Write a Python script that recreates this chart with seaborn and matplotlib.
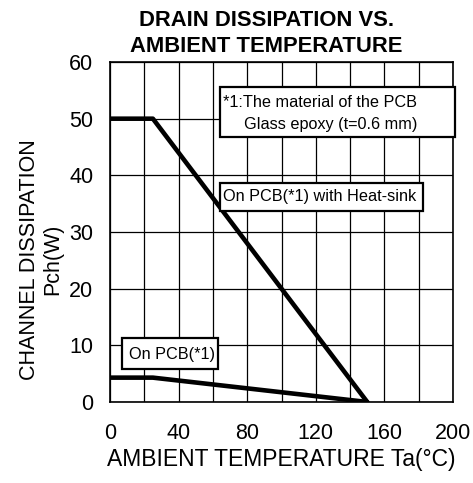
import pandas as pd
import seaborn as sns
from matplotlib import pyplot as plt
from matplotlib.patches import Rectangle

temp_heatsink = [0, 25, 150]
pch_heatsink = [50, 50, 0]
temp_pcb = [0, 25, 150]
pch_pcb = [4.3, 4.3, 0]
x_ticks = [0, 40, 80, 120, 160, 200]
y_ticks = [0, 10, 20, 30, 40, 50, 60]

df = pd.concat([
    pd.DataFrame({'Ta': temp_heatsink, 'Pch': pch_heatsink, 'case': 'heatsink'}),
    pd.DataFrame({'Ta': temp_pcb, 'Pch': pch_pcb, 'case': 'pcb'}),
])

sns.set_style('white', {'text.color': 'black', 'axes.labelcolor': 'black',
                        'xtick.color': 'black', 'ytick.color': 'black'})
plt.rcParams['font.family'] = ['Liberation Sans', 'DejaVu Sans']

fig = plt.figure(figsize=(4.73, 4.83), dpi=100)
ax = fig.add_axes([0.2326, 0.1677, 0.7251, 0.7039])

sns.lineplot(data=df, x='Ta', y='Pch', units='case', estimator=None,
             color='black', linewidth=3.3, ax=ax, sort=False, zorder=3)

ax.set_xlim(0, 200)
ax.set_ylim(0, 60)
ax.set_xticks(x_ticks)
ax.set_xticks(range(20, 200, 40), minor=True)
ax.set_yticks(y_ticks)
ax.grid(True, which='both', axis='x', color='black', linewidth=0.9)
ax.grid(True, which='major', axis='y', color='black', linewidth=0.9)
ax.tick_params(axis='both', which='both', length=0, labelsize=15.5)
ax.tick_params(axis='x', pad=15)
ax.tick_params(axis='y', pad=12)
for s in ax.spines.values():
    s.set_color('black')
    s.set_linewidth(1.2)

ax.set_xlabel('AMBIENT TEMPERATURE Ta(°C)', fontsize=16.5, labelpad=3)
ax.set_ylabel('CHANNEL DISSIPATION\nPch(W)', fontsize=15.5, linespacing=1.15)
ax.yaxis.set_label_coords(-0.135, 0.42)
ax.set_title('DRAIN DISSIPATION VS.\nAMBIENT TEMPERATURE', fontsize=15.8,
             fontweight='bold', pad=7, linespacing=1.3, x=0.455)

# annotation boxes (axes fraction)
for x0, y0, x1, y1 in [(0.321, 0.779, 1.006, 0.926),
                       (0.321, 0.562, 0.9125, 0.644),
                       (0.035, 0.097, 0.315, 0.188)]:
    ax.add_patch(Rectangle((x0, y0), x1 - x0, y1 - y0, transform=ax.transAxes,
                           facecolor='white', edgecolor='black', linewidth=1.6,
                           zorder=5, clip_on=False))

fs = 11.7
ax.text(0.329, 0.882, '*1:The material of the PCB', fontsize=fs,
        transform=ax.transAxes, ha='left', va='center', zorder=6)
ax.text(0.895, 0.815, 'Glass epoxy (t=0.6 mm)', fontsize=fs,
        transform=ax.transAxes, ha='right', va='center', zorder=6)
ax.text(0.329, 0.603, 'On PCB(*1) with Heat-sink', fontsize=fs,
        transform=ax.transAxes, ha='left', va='center', zorder=6)
ax.text(0.055, 0.141, 'On PCB(*1)', fontsize=fs,
        transform=ax.transAxes, ha='left', va='center', zorder=6)

fig.savefig('out.png', dpi=100)
